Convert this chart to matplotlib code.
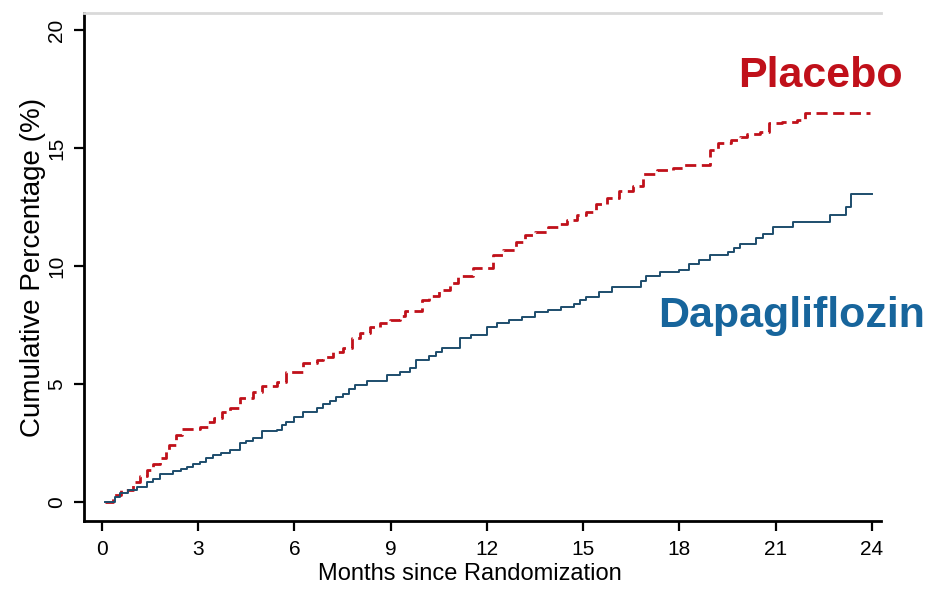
import matplotlib
matplotlib.use("Agg")
import matplotlib.pyplot as plt

plt.rcParams['font.family'] = ['Liberation Sans', 'DejaVu Sans']

# Kaplan-Meier style cumulative incidence (step knots: month, cumulative %)
placebo_months = [0.1, 0.35, 0.6, 0.97, 1.2, 1.4, 1.6, 1.8, 2.0, 2.1, 2.3, 2.5,
                  3.05, 3.3, 3.5, 3.75, 4.0, 4.3, 4.7, 5.0, 5.45, 5.75, 6.27, 6.7,
                  6.9, 7.2, 7.5, 7.8, 8.05, 8.35, 8.67, 8.98, 9.3, 9.45, 9.97, 10.2,
                  10.5, 10.85, 11.1, 11.57, 12.2, 12.5, 12.9, 13.2, 13.5, 13.9, 14.2,
                  14.5, 14.8, 15.1, 15.4, 15.75, 16.1, 16.55, 16.85, 17.3, 17.8, 18.1,
                  18.95, 19.2, 19.6, 19.9, 20.1, 20.5, 20.8, 21.2, 21.65, 21.9, 23.95]
placebo_pct = [0.0, 0.3, 0.5, 0.85, 1.1, 1.35, 1.6, 1.85, 2.15, 2.4, 2.85, 3.1,
               3.2, 3.4, 3.55, 3.8, 4.0, 4.4, 4.65, 4.9, 5.1, 5.5, 5.9, 6.0,
               6.15, 6.35, 6.55, 6.95, 7.15, 7.4, 7.6, 7.7, 7.9, 8.1, 8.55, 8.75,
               9.0, 9.3, 9.6, 9.9, 10.45, 10.7, 11.0, 11.3, 11.45, 11.65, 11.8,
               11.95, 12.15, 12.3, 12.65, 12.9, 13.2, 13.4, 13.9, 14.05, 14.15, 14.3,
               14.9, 15.2, 15.35, 15.45, 15.6, 15.7, 16.05, 16.1, 16.2, 16.5, 16.5]

dapa_months = [0.1, 0.4, 0.56, 0.8, 1.1, 1.4, 1.6, 1.8, 2.2, 2.45, 2.65, 2.85,
               3.05, 3.25, 3.46, 3.7, 4.0, 4.3, 4.5, 4.7, 5.0, 5.45, 5.6, 5.75,
               6.0, 6.27, 6.7, 6.9, 7.1, 7.3, 7.5, 7.7, 7.9, 8.25, 8.9, 9.3, 9.6,
               9.8, 10.2, 10.4, 10.6, 11.15, 11.5, 12.0, 12.3, 12.7, 13.1, 13.5,
               13.9, 14.3, 14.7, 14.9, 15.1, 15.5, 15.9, 16.8, 16.95, 17.4, 18.0,
               18.3, 18.6, 18.95, 19.5, 19.7, 19.9, 20.4, 20.6, 20.9, 21.55, 22.7,
               23.2, 23.35, 24.0]
dapa_pct = [0.0, 0.2, 0.4, 0.5, 0.65, 0.85, 1.0, 1.2, 1.3, 1.4, 1.5, 1.6,
            1.7, 1.85, 2.0, 2.1, 2.2, 2.5, 2.6, 2.7, 3.0, 3.05, 3.25, 3.4,
            3.6, 3.8, 4.0, 4.15, 4.3, 4.45, 4.6, 4.8, 4.95, 5.15, 5.4, 5.5, 5.7,
            6.0, 6.2, 6.35, 6.55, 6.95, 7.1, 7.4, 7.6, 7.7, 7.85, 8.05,
            8.15, 8.25, 8.4, 8.55, 8.7, 8.9, 9.1, 9.35, 9.6, 9.75, 9.85,
            10.1, 10.25, 10.45, 10.6, 10.75, 10.95, 11.2, 11.35, 11.65, 11.85, 12.15,
            12.5, 13.05, 13.05]

x_ticks = [0, 3, 6, 9, 12, 15, 18, 21, 24]
y_ticks = [0, 5, 10, 15, 20]

RED = '#c0101a'
BLUE_LINE = '#1d4d6c'
BLUE_TEXT = '#17659c'

fig = plt.figure(figsize=(9.36, 5.91), dpi=100)
ax = fig.add_axes([0.0897, 0.1184, 0.8515, 0.8596])

ax.plot(placebo_months, placebo_pct, drawstyle='steps-post', color=RED,
        lw=2.0, linestyle=(0, (4, 2)), zorder=3)
ax.plot(dapa_months, dapa_pct, drawstyle='steps-post', color=BLUE_LINE,
        lw=1.4, zorder=3)

ax.set_xlim(-0.56, 24.28)
ax.set_ylim(-0.8, 20.72)
ax.set_xticks(x_ticks)
ax.set_yticks(y_ticks)
ax.set_xticklabels([str(v) for v in x_ticks], fontsize=15)
ax.set_yticklabels([str(v) for v in y_ticks], fontsize=15, rotation=90, va='center')

ax.tick_params(axis='both', direction='out', length=7, width=1.6, color='black')
ax.tick_params(axis='x', pad=7)
ax.tick_params(axis='y', pad=6)

for side in ('left', 'bottom'):
    ax.spines[side].set_linewidth(2.0)
    ax.spines[side].set_color('black')
ax.spines['right'].set_visible(False)
ax.spines['top'].set_color('#d9d9d9')
ax.spines['top'].set_linewidth(2.0)

ax.set_xlabel('Months since Randomization', fontsize=17, labelpad=0)
ax.xaxis.set_label_coords(0.484, -0.083, transform=ax.transAxes)
ax.xaxis.label.set_va('top')
ax.set_ylabel('Cumulative Percentage (%)', fontsize=20, labelpad=1)

ax.text(19.83, 17.58, 'Placebo', color=RED, fontsize=31, fontweight='bold',
        ha='left', va='baseline')
ax.text(17.33, 7.42, 'Dapagliflozin', color=BLUE_TEXT, fontsize=31,
        fontweight='bold', ha='left', va='baseline')

fig.savefig('out.png', dpi=100)
